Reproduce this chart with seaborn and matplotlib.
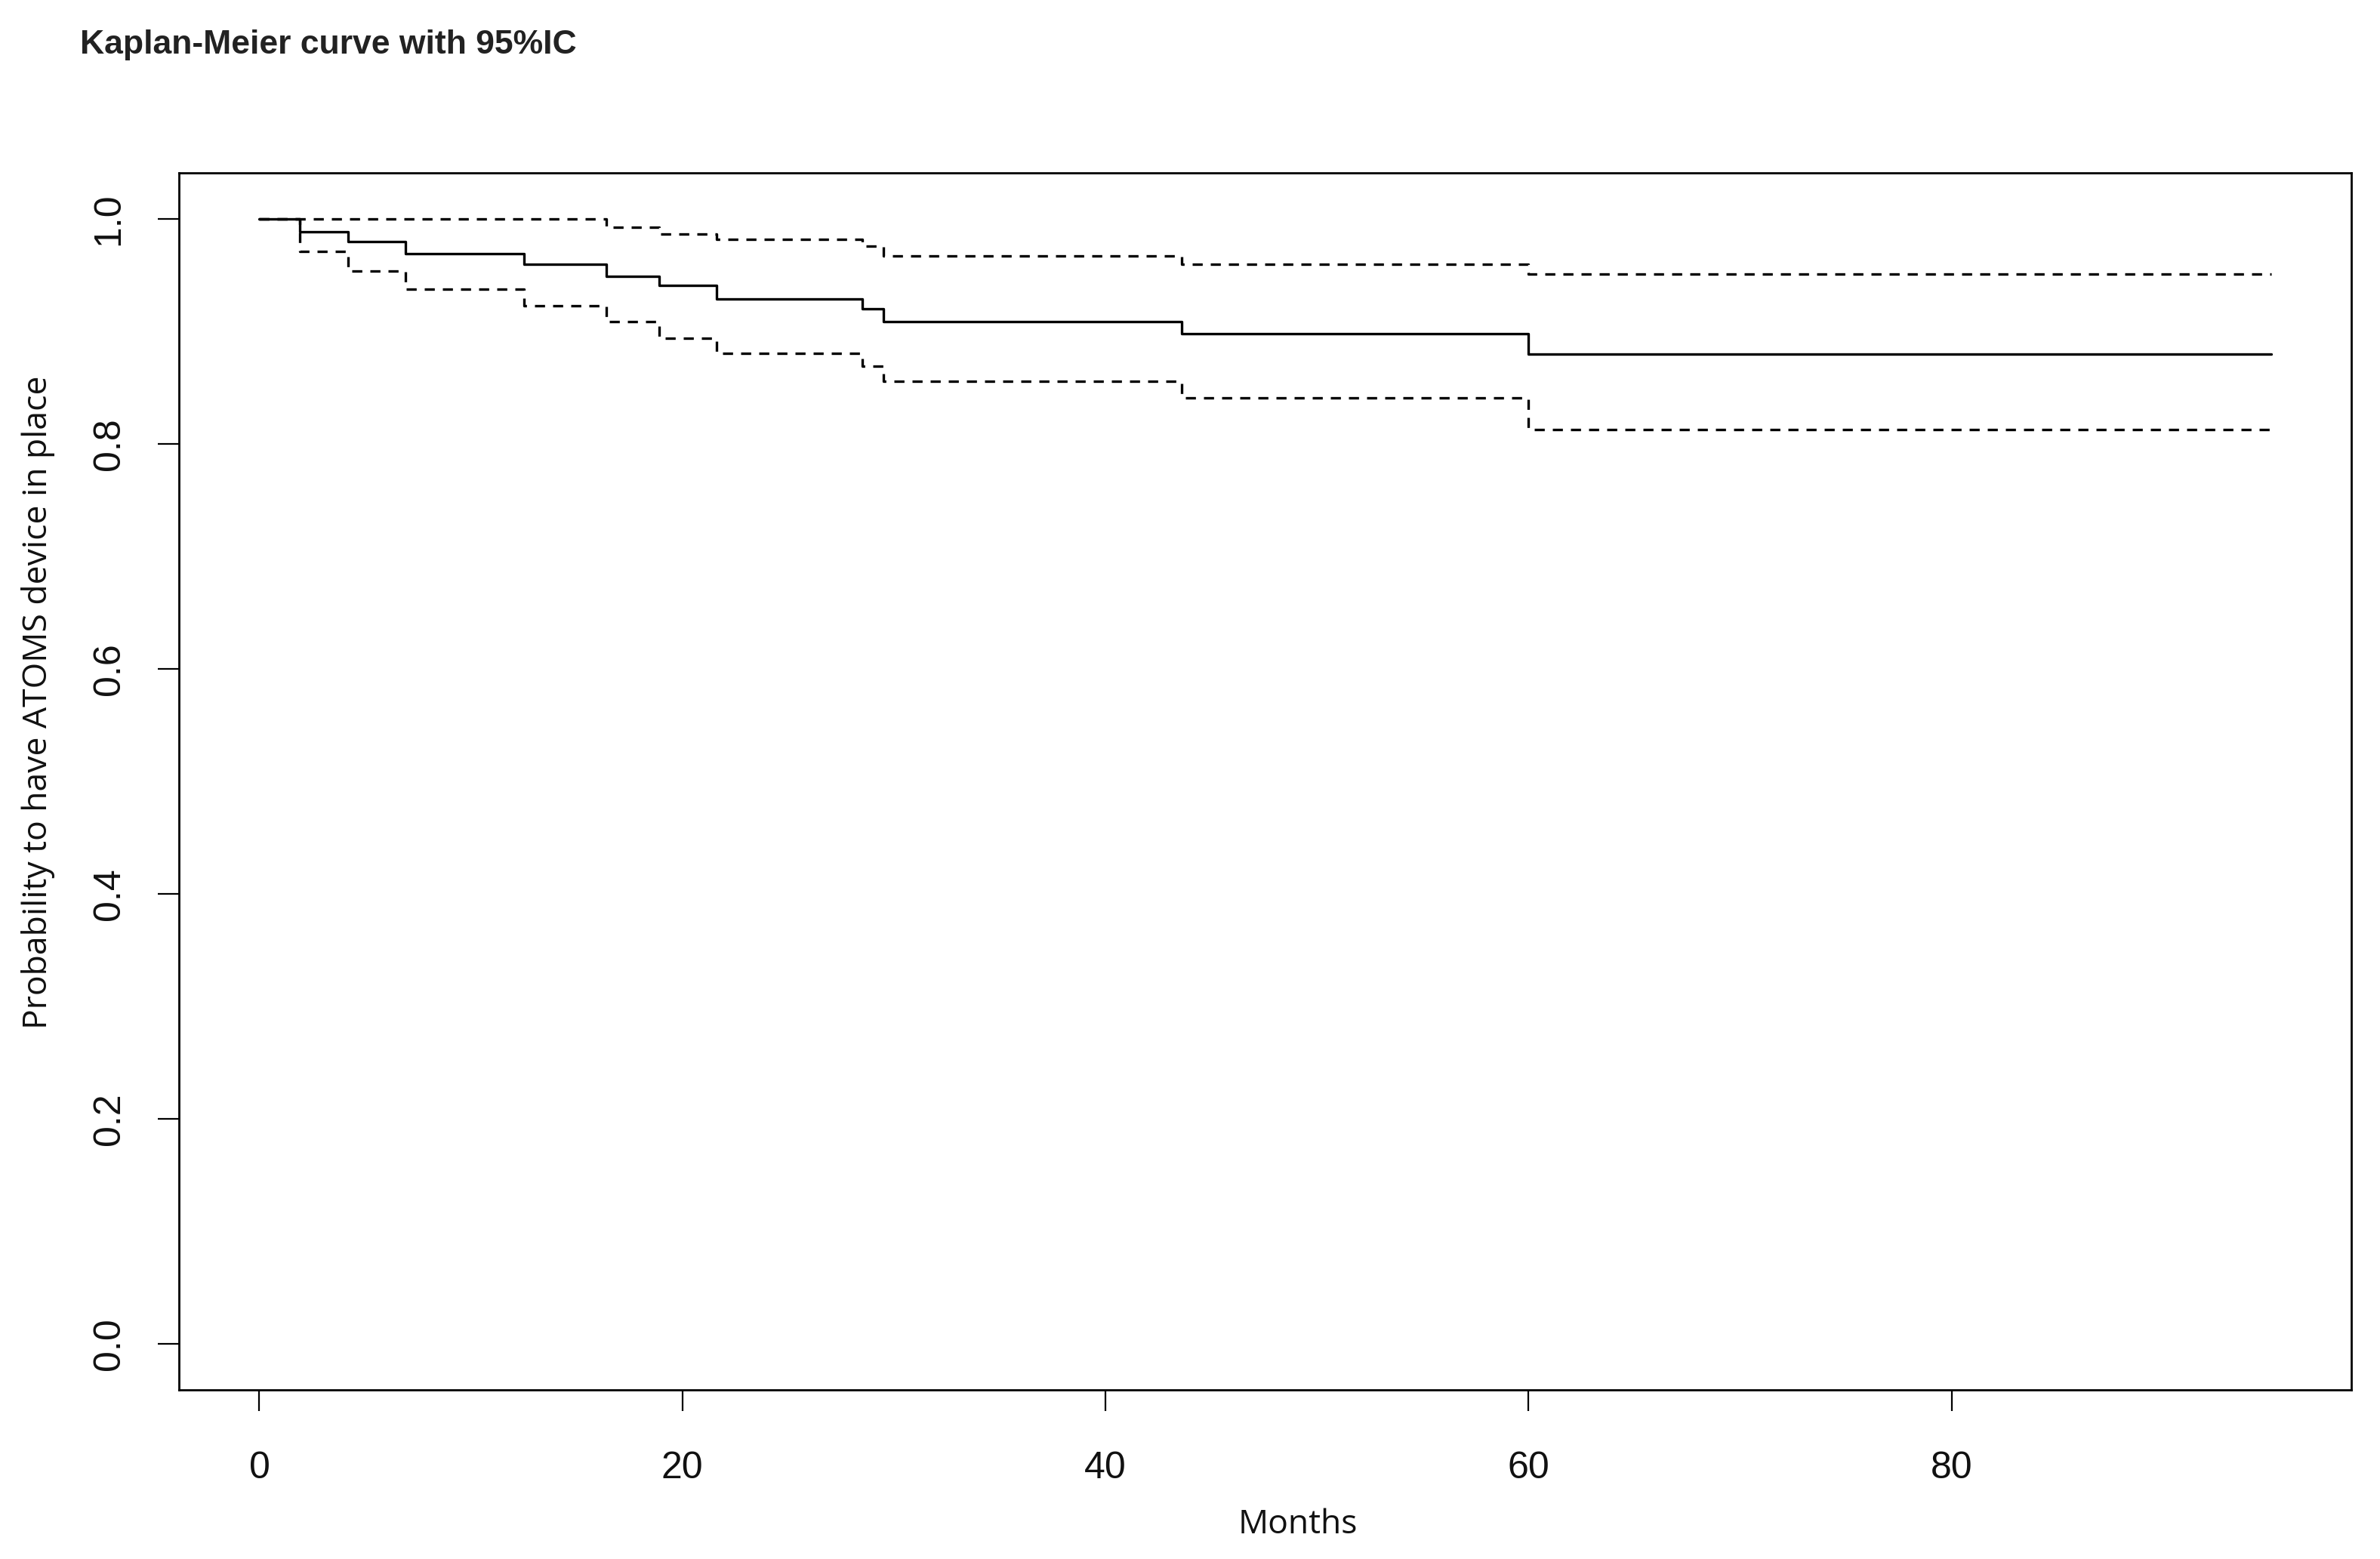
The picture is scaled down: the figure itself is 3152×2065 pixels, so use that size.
import pandas as pd
import matplotlib.pyplot as plt
import seaborn as sns

# Kaplan-Meier estimate and 95% CI
months = [0, 1.9, 4.2, 6.9, 12.5, 16.4, 18.9, 21.6, 28.5, 29.5, 43.6, 60.0, 95.1]
surv = [1.0, 0.989, 0.980, 0.969, 0.960, 0.949, 0.941, 0.929, 0.920, 0.909, 0.898, 0.880, 0.880]
upper = [1.0, 1.0, 1.0, 1.0, 1.0, 0.993, 0.987, 0.982, 0.976, 0.967, 0.960, 0.951, 0.951]
lower = [1.0, 0.971, 0.954, 0.938, 0.923, 0.909, 0.894, 0.881, 0.869, 0.856, 0.841, 0.813, 0.813]

x_ticks = [0, 20, 40, 60, 80]
y_ticks = [0.0, 0.2, 0.4, 0.6, 0.8, 1.0]

df = pd.DataFrame({"months": months, "surv": surv, "upper": upper, "lower": lower})

sns.set_theme(style="ticks")
plt.rcParams["font.family"] = ["Liberation Sans", "DejaVu Sans"]

fig = plt.figure(figsize=(15.76, 10.325), dpi=200)
ax = fig.add_axes([0.0752, 0.1085, 0.9128, 0.7805])

# curve and confidence limits
sns.lineplot(data=df, x="months", y="surv", drawstyle="steps-post",
             color="black", linewidth=1.2, ax=ax)
for col in ["upper", "lower"]:
    sns.lineplot(data=df, x="months", y=col, drawstyle="steps-post",
                 color="black", linewidth=1.2, dashes=False, ax=ax,
                 linestyle=(0, (4, 3.2)))

ax.set_xlim(-3.8, 98.9)
ax.set_ylim(-0.041, 1.041)
ax.set_xticks(x_ticks)
ax.set_xticklabels([str(v) for v in x_ticks])
ax.set_yticks(y_ticks)
ax.set_yticklabels([f"{v:.1f}" for v in y_ticks], rotation=90, va="center")

for side in ["top", "right", "bottom", "left"]:
    ax.spines[side].set_visible(True)
    ax.spines[side].set_linewidth(1.0)
    ax.spines[side].set_color("black")

ax.tick_params(axis="both", direction="out", length=10, width=0.8,
               color="black", labelsize=18, labelcolor="#111111")
ax.tick_params(axis="x", pad=19)
ax.tick_params(axis="y", pad=15)

ax.set_xlabel("Months", fontsize=16, family=["Open Sans", "DejaVu Sans"],
              color="#111111")
ax.set_ylabel("Probability to have ATOMS device in place", fontsize=16,
              family=["Open Sans", "DejaVu Sans"], color="#111111")
ax.xaxis.set_label_coords(0.515, -0.111)
ax.xaxis.label.set_va("center")
ax.yaxis.set_label_coords(-0.065, 0.565)
ax.yaxis.label.set_va("center")

fig.text(0.0336, 0.971, "Kaplan-Meier curve with 95%IC", fontsize=16,
         fontweight="bold", ha="left", va="center", color="#222222")

fig.savefig("out.png", dpi=200, facecolor="white")
